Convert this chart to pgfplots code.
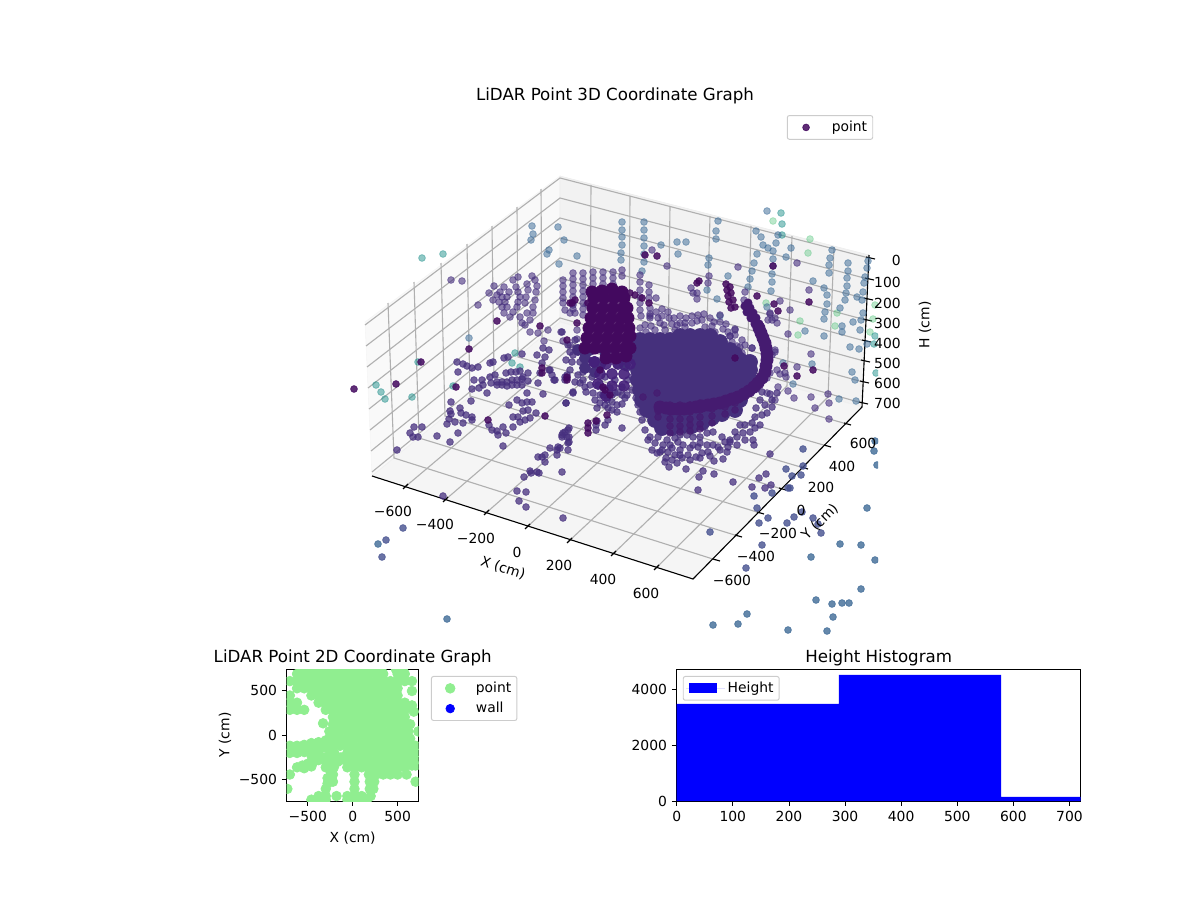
\documentclass[border=0pt]{standalone}
\usepackage{fontspec}
\setmainfont{DejaVu Sans}
\usepackage{pgfplots}
\pgfplotsset{compat=1.18}
\definecolor{cDark}{HTML}{43095F}
\definecolor{cPur}{HTML}{47307F}
\definecolor{cCore}{HTML}{45307C}
\definecolor{cArc}{HTML}{451B70}
\definecolor{cMix}{HTML}{44207A}
\definecolor{cMid}{HTML}{45508F}
\definecolor{cBlue}{HTML}{3B6A96}
\definecolor{cLow}{HTML}{3E6A96}
\definecolor{cTeal}{HTML}{21918C}
\definecolor{cGreen}{HTML}{44BF70}
\definecolor{lgreen}{HTML}{90EE90}
\definecolor{grd}{gray}{0.69}
\definecolor{lgd}{gray}{0.8}
\def\T[#1]#2#3#4{\node[#1,inner sep=0pt,font=\fontsize{10}{12}\selectfont] at ({(#2)*0.72pt},{(900-(#3))*0.72pt}) {#4};}
\pgfplotsset{
 clip marker paths=true,
 pt/.style n args={2}{forget plot,only marks,mark=*,mark size=2.45pt,mark options={draw=#1,fill=#1,line width=.5pt,opacity=#2,solid}},
 gl/.style={forget plot,no marks,draw=grd,line width=.8pt,solid},
 bl/.style={forget plot,no marks,draw=black,line width=.8pt,solid},
 lg/.style={legend cell align=left,legend style={draw=lgd,fill=white,text opacity=1,rounded corners=1.5pt,line width=.7pt,font=\fontsize{10}{12}\selectfont,anchor=north west,inner xsep=2pt,inner ysep=2pt,row sep=1.5pt}},
 mk/.style={legend image code/.code={\draw[##1,draw=none] plot coordinates {(11.5pt,0pt)};\path[draw=none] (0pt,0pt) -- (28pt,0pt);}},
 flat/.style={scale only axis,axis line style={line width=.6pt},tick style={black,line width=.6pt},tick align=outside,tick pos=left,major tick length=3.5pt,
   /pgf/number format/assume math mode=true,ticklabel style={font=\fontsize{10}{12}\selectfont},label style={font=\fontsize{10}{12}\selectfont},
   title style={font=\fontsize{12}{14}\selectfont,at={(0.5,1)},anchor=south,yshift=-7.5pt},
   xlabel style={yshift=-1pt},ylabel style={yshift=-1.5pt}}
}
\begin{document}
\begin{tikzpicture}
\path[use as bounding box] (0,0) rectangle (864pt,648pt);
\begin{axis}[at={(231.84pt,190.8pt)},anchor=south west,scale only axis,width=400.32pt,height=395.28pt,xmin=322,xmax=878,ymin=86,ymax=635,y dir=reverse,hide axis,clip=true,
 lg,mk,legend style={at={(0.836,0.947)}}]
% panes
\addplot[forget plot,fill=black!2.5,draw=black!4] coordinates {(365,322)(560,176)(560,322)(372,476)} -- cycle;
\addplot[forget plot,fill=black!5,draw=black!7] coordinates {(560,176)(869,255)(862,407)(560,322)} -- cycle;
\addplot[forget plot,fill=black!4,draw=black!6] coordinates {(372,476)(560,322)(862,407)(693,579)} -- cycle;
% grid: Y lines on floor and left wall
\addplot[gl] coordinates {(716,560)(394,458)(388,303)};
\addplot[gl] coordinates {(738,536)(419,438)(414,282)};
\addplot[gl] coordinates {(760,513)(445,416)(441,263)};
\addplot[gl] coordinates {(782,489)(470,396)(467,244)};
\addplot[gl] coordinates {(804,468)(494,376)(492,226)};
\addplot[gl] coordinates {(827,446)(518,357)(517,207)};
\addplot[gl] coordinates {(847,424)(542,338)(541,189)};
% grid: X lines on floor and back wall
\addplot[gl] coordinates {(405,487)(590,331)(591,185)};
\addplot[gl] coordinates {(445,500)(629,342)(630,196)};
\addplot[gl] coordinates {(486,513)(668,353)(670,206)};
\addplot[gl] coordinates {(527,527)(706,364)(710,216)};
\addplot[gl] coordinates {(569,541)(747,375)(751,226)};
\addplot[gl] coordinates {(613,554)(787,386)(792,236)};
\addplot[gl] coordinates {(656,568)(828,397)(834,247)};
% grid: H lines on walls
\addplot[gl] coordinates {(365,325)(560,178)(869,258)};
\addplot[gl] coordinates {(366,346)(560,198)(868,279)};
\addplot[gl] coordinates {(367,367)(560,218)(867,299)};
\addplot[gl] coordinates {(368,388)(560,238)(866,320)};
\addplot[gl] coordinates {(369,409)(560,258)(865,341)};
\addplot[gl] coordinates {(370,430)(560,278)(864,361)};
\addplot[gl] coordinates {(371,451)(560,298)(863,382)};
\addplot[gl] coordinates {(372,472)(560,318)(862,403)};
% axis lines and ticks
\addplot[bl] coordinates {(372,476)(693,579)(862,407)(869,255)};
\addplot[bl] coordinates {(403,489)(408,484)};\addplot[bl] coordinates {(443,502)(448,497)};
\addplot[bl] coordinates {(484,515)(489,510)};\addplot[bl] coordinates {(525,529)(530,524)};
\addplot[bl] coordinates {(567,543)(572,538)};\addplot[bl] coordinates {(611,556)(616,551)};
\addplot[bl] coordinates {(654,570)(659,565)};
\addplot[bl] coordinates {(713,559)(720,561)};\addplot[bl] coordinates {(735,535)(742,537)};
\addplot[bl] coordinates {(757,512)(764,514)};\addplot[bl] coordinates {(779,488)(786,490)};
\addplot[bl] coordinates {(801,467)(808,469)};\addplot[bl] coordinates {(824,445)(831,447)};
\addplot[bl] coordinates {(844,423)(851,425)};
\addplot[bl] coordinates {(866,257)(875,259)};\addplot[bl] coordinates {(865,278)(874,280)};
\addplot[bl] coordinates {(864,298)(873,300)};\addplot[bl] coordinates {(863,319)(872,321)};
\addplot[bl] coordinates {(862,340)(871,342)};\addplot[bl] coordinates {(861,360)(870,362)};
\addplot[bl] coordinates {(860,381)(869,383)};\addplot[bl] coordinates {(859,402)(868,404)};
% pale far points
\addplot[pt={cGreen}{.36}] coordinates {(773,221)(810,239)(808,253)(766,303)(800,321)(798,335)(837,313)(835,326)(873,319)(875,305)(870,332)};
\addplot[pt={cTeal}{.5}] coordinates {(422,258)(443,254)(418,362)(376,385)(381,392)(385,399)(412,397)(453,386)(515,353)(512,363)(520,367)(781,213)(782,224)(782,235)(876,373)(881,402)(874,344)(875,336)};
\addplot[pt={cBlue}{.52}] coordinates {(622,222)(622,230)(622,237)(622,245)(621,253)(621,260)(644,222)(644,230)(644,238)(644,246)(644,254)(644,262)(642,271)
(532,226)(533,234)(531,240)(558,227)(564,240)(549,250)(547,254)(577,256)(559,264)(677,242)(686,242)(678,254)(661,245)(718,221)(716,231)(716,239)(709,258)(708,265)(707,290)
(717,299)(720,316)(728,276)(748,287)(756,231)(761,237)(763,245)(768,248)(773,251)(776,243)(778,235)(767,211)
(791,248)(786,257)(773,259)(773,266)(772,274)(772,282)(771,291)(757,254)(754,263)(752,271)(750,279)
(832,250)(830,258)(829,265)(829,273)(813,281)(824,288)(827,295)(827,304)(825,312)(824,319)(824,336)
(848,263)(848,271)(847,278)(847,286)(846,293)(845,300)(840,308)(842,326)(842,332)(853,322)(860,330)(867,344)(850,347)(859,349)(861,320)(863,313)(857,297)(862,300)(868,261)(867,268)(865,277)(864,283)(863,292)
(805,331)(812,364)(783,363)(793,384)(839,399)(852,372)(855,380)(856,401)(469,338)(767,307)};
% far purple columns and clusters
\addplot[pt={cPur}{.6}] coordinates {(563,280)(563,286)(563,292)(563,298)(563,303)(573,273)(573,279)(573,285)(573,291)(573,297)(573,303)(573,309)
(583,273)(583,279)(583,285)(583,291)(583,297)(583,303)(583,309)(593,272)(593,278)(593,284)(593,290)(593,296)(593,302)(593,308)
(603,272)(603,278)(603,284)(603,290)(603,296)(613,272)(613,278)(613,284)(622,270)(622,276)
(640,275)(640,282)(640,290)(640,297)(640,303)(640,310)(641,316)(649,285)(649,292)(649,298)(650,308)(650,314)(656,298)(662,309)(669,318)(677,325)(685,327)(650,318)(645,325)(660,323)(664,325)
(494,286)(489,293)(493,300)(497,295)(504,287)(500,292)(502,297)(499,302)(502,307)(504,313)(509,292)(507,297)(505,302)(507,307)(513,280)(518,277)(516,287)(518,292)(520,297)(518,302)(517,307)(527,284)(528,290)(526,297)(525,303)(532,276)(535,280)(537,286)(536,292)(535,300)(533,307)
(513,312)(520,317)(527,313)(533,313)(510,317)(522,323)(530,320)(548,330)(525,325)(530,332)(538,333)(544,341)(561,332)(563,341)(570,345)(577,339)(573,305)(577,330)(587,304)(565,310)(570,313)(575,313)(583,315)
(451,280)(462,281)(478,305)(652,250)(667,266)(709,276)(708,283)(691,288)(693,293)(697,293)(697,299)(738,267)(745,292)(744,300)(797,263)(809,290)(790,310)(780,301)(811,354)(788,334)(767,348)(775,352)(752,348)(735,330)(735,335)(730,336)(770,373)(777,370)(767,378)(778,387)(767,393)(775,400)(811,397)(828,394)(794,398)(788,391)(829,403)(815,408)(829,419)(770,313)(772,320)(777,323)(768,320)(775,318)(770,314)
(680,323)(685,323)(692,323)(697,321)(702,320)(710,318)(705,327)(715,332)(723,329)(730,336)(735,329)(742,340)(723,340)(737,346)(752,348)(748,358)(742,353)(720,315)(775,350)(772,355)(797,367)(786,377)(785,373)(780,374)
(650,316)(656,312)(662,316)(668,312)(674,318)(680,316)(686,318)(692,316)(698,315)(704,314)(714,322)(720,322)(726,324)(672,324)(658,318)(651,326)(640,328)(646,332)(655,330)(665,330)(675,330)(712,326)(728,332)(732,342)(740,347)(745,345)};
% lower, nearer points
\addplot[pt={cLow}{.8}] coordinates {(875,441)(874,451)(877,465)(867,508)(840,544)(861,545)(875,560)(811,557)(861,589)(816,600)(832,604)(842,603)(849,603)(833,617)(747,614)(738,624)(713,625)(788,630)(827,631)(817,636)(447,619)(378,544)};
\addplot[pt={cMid}{.8}] coordinates {(403,528)(386,540)(382,557)(762,545)(746,568)(710,532)(757,508)(768,518)(759,523)(794,517)(787,523)(802,512)(813,518)(818,524)(821,533)(754,496)(772,493)(786,469)(792,476)(801,475)(803,466)(803,449)(788,488)(790,488)};
\addplot[pt={cPur}{.75}] coordinates {(457,362)(463,364)(467,366)(472,368)(478,367)(458,372)(490,363)(493,362)(504,358)(508,357)(522,354)(537,355)(543,348)(545,357)(549,350)(542,363)(549,370)(540,373)(552,375)(555,380)(538,383)(567,375)(567,378)(566,403)(543,394)
(490,377)(495,375)(506,373)(511,372)(516,372)(520,371)(528,373)(474,380)(482,380)(483,385)(479,388)(472,389)(491,383)(497,382)(502,382)(507,382)(512,380)(517,380)(522,379)(528,381)(523,377)(497,385)(502,385)(507,386)(512,385)(517,385)(522,385)(487,393)
(527,393)(517,400)(522,403)(527,402)(532,402)(509,405)(471,401)(451,402)(450,411)(451,414)(460,408)(461,413)(466,415)(472,417)(472,420)(449,419)(447,424)(455,422)(463,423)(458,433)(450,442)(437,436)(422,427)(414,427)(410,433)(413,437)(418,437)(397,450)(443,496)
(489,425)(492,430)(497,431)(498,435)(503,427)(506,433)(503,446)(513,417)(518,417)(513,427)(520,422)(525,420)(530,418)(523,411)(528,410)(536,413)(550,448)(557,450)(538,457)(545,455)(542,457)(545,462)(568,430)(563,433)(567,437)(562,437)(569,442)(568,450)(558,447)(557,455)(530,471)(537,472)(539,473)(531,473)(524,477)(562,472)(517,491)(526,492)(519,501)(526,507)(563,518)
(573,392)(566,403)(622,428)(597,421)(596,425)(596,430)(569,428)(565,432)(562,435)(569,437)(568,443)(560,448)
(607,400)(608,408)(617,412)(617,405)(622,404)(622,395)(627,395)(615,393)(603,388)(597,408)(593,393)(600,403)(600,395)(573,393)(580,383)(585,387)(575,382)(565,377)(565,380)(554,380)(550,370)(573,355)(568,345)(575,340)(562,332)
(592,377)(605,377)(615,380)(622,387)(628,380)(632,377)(627,368)(617,365)(632,360)(637,363)(607,357)(583,372)(643,397)(645,405)
(612,395)(606,395)(618,392)(612,402)(603,395)(610,388)(598,385)(590,385)(583,380)(578,375)(570,370)(572,362)(580,362)(576,348)(570,352)(566,360)(586,392)(595,400)(605,405)(612,410)(608,420)(605,425)(638,405)(636,398)(640,412)(642,420)(632,390)(625,398)
(655,443)(663,445)(670,445)(678,442)(693,445)(700,437)(707,433)(713,432)(722,437)(730,440)(737,437)(743,433)(750,432)(755,428)(752,423)(755,417)(756,408)(762,392)(770,394)(777,393)(772,407)(767,413)(740,425)(730,442)(727,452)(723,459)(714,461)(708,452)(702,453)(696,457)(688,455)(682,458)(677,463)(669,467)(686,469)(703,471)(699,477)(714,474)(733,482)(698,490)(752,487)(759,478)(766,474)(771,485)(765,488)(770,454)(753,440)(754,445)(737,445)(666,458)(657,453)(652,450)(660,452)(675,455)(668,452)(690,448)(680,450)(683,445)(698,447)(707,445)(713,445)(718,447)(693,437)(687,435)(680,435)(650,437)(658,437)(667,440)(662,450)(672,448)(645,430)(648,440)
(665,462)(672,460)(680,455)(690,460)(700,458)(710,456)(720,450)(728,447)(745,440)(760,425)(762,415)(765,405)(772,400)(760,400)(745,425)(735,432)(725,442)(700,443)(675,438)};
% dense dome, drawn with wider marks
\addplot[pt={cCore}{1},mark size=5.4pt] coordinates {
(640,340)(650,340)(660,340)(670,340)(680,336)(690,336)(700,336)(710,336)(720,342)
(675,345)(685,343)(695,343)(705,343)
(638,350)(650,350)(660,350)(670,350)(680,350)(690,350)(700,350)(710,350)(720,350)(730,350)(735,354)
(638,360)(650,360)(660,360)(670,360)(680,360)(690,360)(700,360)(710,360)(720,360)(730,360)(740,360)(750,362)
(638,370)(650,370)(660,370)(670,370)(680,370)(690,370)(700,370)(710,370)(720,370)(730,370)(740,370)(750,370)
(638,380)(650,380)(660,380)(670,380)(680,380)(690,380)(700,380)(710,380)(720,380)(730,380)(740,380)(750,380)
(640,390)(650,390)(660,390)(670,390)(680,390)(690,390)(700,390)(710,390)(720,390)(730,390)(740,390)
(642,400)(652,400)(660,400)(670,400)(680,400)(690,400)(700,400)(710,400)(720,400)(730,400)(740,400)
(647,410)(655,410)(665,410)(675,410)(685,410)(695,410)(705,410)(715,410)(725,410)(735,410)
(655,420)(662,420)(672,420)(682,420)(692,420)(702,420)(712,418)(722,414)
(662,428)(672,428)(682,426)(692,426)(702,423)};
\addplot[pt={cCore}{1},mark size=4pt] coordinates {(578,350)(585,358)(590,350)(595,362)(585,368)(600,365)(595,372)(605,352)(615,358)(625,365)};
% dark columns under the arc and the arc
\addplot[pt={cArc}{.75}] coordinates {(658,405)(658,411)(658,417)(670,405)(670,412)(670,419)(670,426)(670,433)(680,405)(680,412)(680,419)(680,426)(680,432)(690,405)(690,412)(690,419)(690,425)(690,431)(700,403)(700,410)(700,417)(700,424)(700,429)(712,402)(712,409)(712,416)(712,423)(725,400)(725,407)(725,414)(735,396)(735,403)(735,410)(657,393)(643,397)};
\addplot[pt={cArc}{1},mark size=3pt] coordinates {(748,303)(750,308)(753,313)(756,318)(759,324)(761,330)(745,306)(747,312)(751,318)(755,324)};
\addplot[pt={cArc}{1},mark size=4.4pt] coordinates {(759,328)(761,333)(763,338)(765,343)(766,348)(767,354)(767,360)(766,366)(765,372)(762,378)(758,383)(754,387)(749,391)(744,394)(738,397)(732,399)(726,401)(720,403)(714,404)(708,405)(702,406)(696,407)(690,408)(684,409)(678,409)(672,409)(666,408)(660,407)};
% lower part of the leaning mass, then its dark body
\addplot[pt={cMix}{.9},mark size=4pt] coordinates {(594,362)(606,364)(618,364)(630,364)(600,374)(612,374)(624,374)(598,384)(612,386)(624,386)(606,396)};
\addplot[pt={cDark}{1},mark size=4.4pt] coordinates {(592,292)(602,291)(612,289)(622,292)
(594,298)(604,298)(614,298)(624,298)(593,308)(603,308)(613,308)(623,308)(627,308)
(591,318)(601,318)(611,318)(621,318)(628,318)(589,328)(599,328)(609,328)(619,328)(629,328)
(587,338)(597,338)(607,338)(617,338)(627,338)(630,336)(585,348)(595,348)(605,348)(615,348)(625,348)(630,348)(606,358)(616,358)(626,356)};
% single dark points
\addplot[only marks,mark=*,mark size=2.45pt,mark options={draw=cDark,fill=cDark,line width=.5pt,opacity=.85,solid}] coordinates {(469,349)(421,362)(396,384)(354,389)(456,387)(497,321)(540,326)(567,340)(570,303)(577,323)(572,303)(588,303)(575,300)
(542,368)(542,373)(567,377)(567,380)(488,420)(545,416)(588,423)(588,428)(588,433)(596,421)(607,415)(603,387)(600,370)(657,256)(645,255)(699,281)(697,283)(726,284)(727,290)(728,296)(729,302)(731,308)(730,287)(731,293)(733,300)(735,307)(757,296)(774,304)(778,311)(809,302)(773,266)(735,358)(784,366)(797,376)(813,370)(630,293)(635,295)(642,298)(649,303)(610,395)(605,390)};
\addlegendentry{point}
\end{axis}
% 2D scatter
\begin{axis}[flat,at={(206.42pt,71.28pt)},anchor=south west,width=95.04pt,height=95.04pt,xmin=-735,xmax=735,ymin=-735,ymax=735,
 xtick={-500,0,500},xticklabels={−500,0,500},ytick={-500,0,500},yticklabels={−500,0,500},
 title={LiDAR Point 2D Coordinate Graph},xlabel={X (cm)},ylabel={Y (cm)},
 lg,mk,legend style={at={(1.093,0.947)}}]
\addplot[only marks,mark=*,mark size=3.5pt,mark options={draw=lgreen,fill=lgreen,line width=.5pt}] coordinates {
(-560,735)(-480,735)(-400,735)(-320,735)(-240,735)(-160,735)(-80,735)(0,735)(80,735)(160,735)(240,735)(320,735)(480,735)(560,735)
(-620,680)(-540,680)(-460,680)(-380,680)(-300,680)(-220,680)(-140,680)(-60,680)(20,680)(100,680)(180,680)(260,680)(340,680)(500,680)(580,680)
(-700,600)(-620,600)(-540,600)(-460,600)(-380,600)(-300,600)(-220,600)(-140,600)(-60,600)(20,600)(100,600)(180,600)(260,600)(340,600)(420,600)(500,600)(580,600)(660,600)
(-620,520)(-540,520)(-460,520)(-380,520)(-300,520)(-220,520)(-140,520)(-60,520)(20,520)(100,520)(180,520)(260,520)(340,520)(420,520)(500,520)(660,490)
(-700,440)(-460,440)(-380,440)(-300,440)(-220,440)(-140,440)(-60,440)(20,440)(100,440)(180,440)(260,440)(340,440)(420,440)(500,440)
(-700,360)(-620,360)(-380,360)(-300,360)(-220,360)(-140,360)(-60,360)(20,360)(100,360)(180,360)(260,360)(340,360)(420,360)(500,360)(580,360)(660,330)
(-700,280)(-620,280)(-540,280)(-300,280)(-220,280)(-140,280)(-60,280)(20,280)(100,280)(180,280)(260,280)(340,280)(420,280)(500,280)(580,280)(680,260)
(-220,200)(-140,200)(-60,200)(20,200)(100,200)(180,200)(260,200)(340,200)(420,200)(500,200)(580,200)
(-330,130)(-220,120)(-140,120)(-60,120)(20,120)(100,120)(180,120)(260,120)(340,120)(420,120)(500,120)(580,120)(640,120)
(-260,40)(-220,40)(-140,40)(-60,40)(20,40)(100,40)(180,40)(260,40)(340,40)(420,40)(500,40)(580,40)(620,40)(730,40)
(-260,-40)(-220,-40)(-140,-40)(-60,-40)(20,-40)(100,-40)(180,-40)(260,-40)(340,-40)(420,-40)(500,-40)(580,-40)(640,-40)
(-700,-120)(-620,-120)(-540,-110)(-460,-90)(-380,-80)(-300,-60)(-540,-130)(-460,-120)(-380,-120)(-300,-120)(-220,-120)(-140,-120)(-60,-120)(20,-120)(100,-120)(180,-120)(260,-120)(340,-120)(420,-120)(500,-120)(580,-120)(660,-120)(700,-120)
(-620,-160)(-540,-190)(-460,-170)(-380,-160)(-300,-140)
(-700,-200)(-620,-200)(-220,-200)(-60,-200)(20,-200)(100,-200)(180,-200)(260,-200)(340,-200)(420,-200)(500,-200)(580,-200)(660,-200)(700,-200)
(-460,-230)(-380,-210)(-380,-280)(-300,-280)(-220,-280)(-140,-280)(-60,-280)(20,-280)(100,-280)(180,-280)(260,-280)(340,-280)(420,-280)(500,-280)(580,-280)(660,-280)(700,-280)
(-620,-360)(-560,-340)(-500,-320)(-440,-300)(-380,-270)(-320,-250)(-260,-230)(-200,-210)(-540,-370)(-460,-350)(-300,-360)(-220,-360)(-60,-360)(20,-360)(100,-360)(180,-360)(260,-360)(340,-360)(420,-360)(500,-360)(580,-360)(660,-340)(700,-340)
(-700,-440)(-280,-480)(-240,-420)(-210,-360)(-170,-300)(-130,-250)(-220,-440)(20,-440)(180,-440)(260,-440)(340,-440)(420,-440)(500,-440)(600,-440)
(-280,-540)(-220,-520)(20,-520)(190,-520)(240,-520)(700,-520)
(-728,-600)(-300,-600)(20,-600)(190,-600)(230,-600)
(-380,-680)(-300,-680)(-180,-680)(-60,-680)(20,-680)(100,-680)(200,-680)
(-460,-720)(-380,-720)(-300,-720)(-60,-720)(20,-720)(100,-720)(160,-720)};
\addlegendentry{point}
\addplot[only marks,mark=*,mark size=3.1pt,mark options={draw=blue,fill=blue,line width=.5pt}] coordinates {(5000,5000)};
\addlegendentry{wall}
\end{axis}
% histogram
\begin{axis}[flat,at={(487.22pt,71.28pt)},anchor=south west,width=290.88pt,height=95.04pt,xmin=0,xmax=720,ymin=0,ymax=4714,
 xtick={0,100,...,700},ytick={0,2000,4000},scaled y ticks=false,title={Height Histogram},
 /pgf/number format/set thousands separator={},
 lg,legend style={at={(0.015,0.947)}}]
\addplot[ybar interval,fill=blue,draw=none,area legend,legend image code/.code={\fill[blue,sharp corners] (2pt,-3.6pt) rectangle (22pt,3.6pt);\path[draw=none] (0pt,0pt) -- (28pt,0pt);}] coordinates {(0,3465)(289,4500)(578,145)(867,145)};
\addlegendentry{Height}
\end{axis}
% text of the 3D plot
\node[inner sep=0pt,font=\fontsize{12}{14}\selectfont] at ({615*0.72pt},{(900-96)*0.72pt}) {LiDAR Point 3D Coordinate Graph};
\T[]{393}{511}{−600}\T[]{435}{524}{−400}\T[]{476}{538}{−200}\T[]{517}{552}{0}\T[]{559}{565}{200}\T[]{603}{579}{400}\T[]{646}{593}{600}
\T[rotate=-18]{503}{568}{X (cm)}
\T[]{732}{580}{−600}\T[]{756}{556}{−400}\T[]{778}{533}{−200}\T[]{801}{510}{0}\T[]{821}{487}{200}\T[]{842}{466}{400}\T[]{863}{443}{600}
\T[rotate=45]{820}{522}{Y (cm)}
\T[anchor=east]{901}{260}{0}\T[anchor=east]{901}{282}{100}\T[anchor=east]{901}{303}{200}\T[anchor=east]{901}{323}{300}\T[anchor=east]{901}{343}{400}\T[anchor=east]{901}{363}{500}\T[anchor=east]{901}{383}{600}\T[anchor=east]{901}{403}{700}
\T[rotate=90]{925}{325}{H (cm)}
\end{tikzpicture}
\end{document}
